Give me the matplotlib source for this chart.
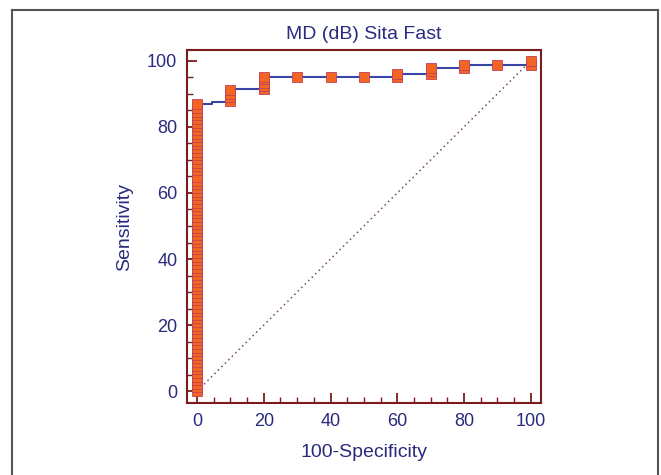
import matplotlib.pyplot as plt
from matplotlib.lines import Line2D
from matplotlib.ticker import MultipleLocator

# ROC data (100-specificity, sensitivity)
curve_x = [0, 0, 4.5, 4.5, 10, 10, 20, 20, 60, 60, 70, 70, 80, 80, 100, 100]
curve_y = [0, 86.9, 86.9, 87.7, 87.7, 91.4, 91.4, 95.2, 95.2, 96.0, 96.0, 98.0, 98.0, 98.9, 98.9, 100]

# markers stacked at 100-specificity = 0
zero_sens = [0, 1.1, 2.2, 3.3, 4.4, 5.5, 6.6, 7.7, 8.8, 9.9, 11.0, 12.1, 13.2, 14.3,
             15.4, 16.5, 17.6, 18.7, 19.8, 20.9, 22.0, 23.1, 24.2, 25.3, 26.4, 27.5,
             28.6, 29.7, 30.8, 31.9, 33.0, 34.1, 35.2, 36.3, 37.4, 38.5, 39.6, 40.7,
             41.8, 42.9, 44.0, 45.1, 46.2, 47.3, 48.4, 49.5, 50.5, 51.6, 52.7, 53.8,
             54.9, 56.0, 57.1, 58.2, 59.3, 60.4, 61.5, 62.6, 63.7, 64.8, 67.0, 68.1,
             69.2, 70.3, 71.4, 72.5, 73.6, 74.7, 75.8, 76.9, 78.0, 79.1, 80.2, 81.3,
             82.4, 83.5, 84.6, 85.7, 86.8]
other_x = [10, 10, 10, 10, 20, 20, 20, 20, 20, 30, 40, 50, 60, 60, 70, 70, 70, 80, 80, 90, 100, 100]
other_y = [88.0, 89.0, 90.1, 91.2, 91.4, 92.3, 93.4, 94.5, 95.2, 95.2, 95.2, 95.2, 95.2, 96.0,
           96.0, 97.0, 98.0, 98.0, 98.9, 98.9, 98.9, 100]

diag = [0, 100]

navy = '#2a2a7e'
maroon = '#7a1c1c'

plt.rcParams['font.family'] = ['Liberation Sans', 'DejaVu Sans']

fig = plt.figure(figsize=(6.61, 4.75), dpi=100)
ax = fig.add_axes([0.283, 0.1516, 0.535, 0.7431])

# reference diagonal
ax.plot(diag, diag, color='#7a4a5a', linestyle=(0, (1, 2.2)), linewidth=1.1)

# ROC step line
ax.plot(curve_x, curve_y, color='#3a45a8', linewidth=1.5, zorder=3)

# markers
ax.plot([0] * len(zero_sens), zero_sens, linestyle='none', marker='s', markersize=6.5,
        markerfacecolor='#f26522', markeredgecolor='#c0405a', markeredgewidth=0.6, zorder=4)
ax.plot(other_x, other_y, linestyle='none', marker='s', markersize=6.5,
        markerfacecolor='#f26522', markeredgecolor='#c0405a', markeredgewidth=0.6, zorder=4)

ax.set_xlim(-3, 103)
ax.set_ylim(-3.6, 103.3)
ax.xaxis.set_major_locator(MultipleLocator(20))
ax.yaxis.set_major_locator(MultipleLocator(20))
ax.xaxis.set_minor_locator(MultipleLocator(5))
ax.yaxis.set_minor_locator(MultipleLocator(5))
ax.tick_params(which='major', direction='in', length=7, width=1.3, color=maroon,
               labelcolor=navy, labelsize=13, pad=7)
ax.tick_params(which='minor', direction='in', length=4, width=1, color=maroon)
for s in ax.spines.values():
    s.set_color(maroon)
    s.set_linewidth(1.5)

ax.set_title('MD (dB) Sita Fast', color=navy, fontsize=14, pad=8)
ax.set_xlabel('100-Specificity', color=navy, fontsize=14, labelpad=10)
ax.set_ylabel('Sensitivity', color=navy, fontsize=14, labelpad=10)

# gray frame around the figure
W, H = 661, 475
frame_kw = dict(color='#555555', linewidth=1.5, transform=fig.transFigure)
fig.add_artist(Line2D([12 / W, 12 / W], [0, 1 - 10 / H], **frame_kw))
fig.add_artist(Line2D([12 / W, 658 / W], [1 - 10 / H, 1 - 10 / H], **frame_kw))
fig.add_artist(Line2D([658 / W, 658 / W], [0, 1 - 10 / H], **frame_kw))

plt.savefig('out.png', dpi=100)
